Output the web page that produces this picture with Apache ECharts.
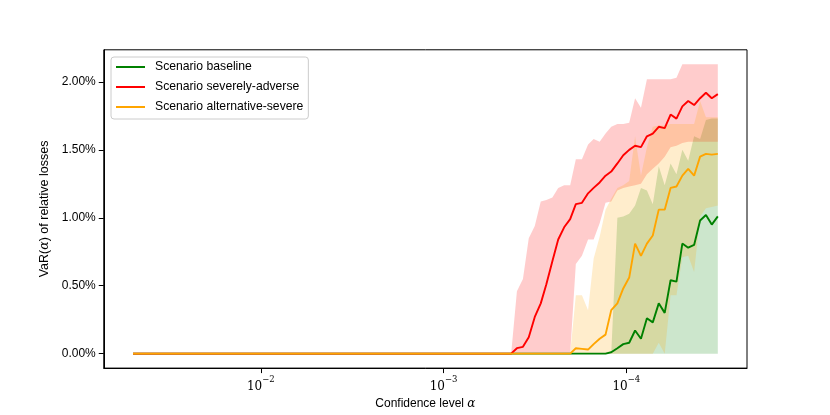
<!DOCTYPE html>
<html lang="en">
<head>
<meta charset="UTF-8" />
<title>VaR by confidence level</title>
<script src="https://cdn.jsdelivr.net/npm/echarts@6.0.0/dist/echarts.min.js"></script>
<style>
  * { margin: 0; padding: 0; }
  html, body { height: 100%; background: #fff; }
</style>
</head>
<body>
<div id="main" style="width:830px;height:415px;"></div>
<script type="text/javascript">
// confidence levels, leftmost point first (axis is reversed)
var alphas = [0.05,
  4.96e-4, 4.60e-4, 4.27e-4, 3.97e-4, 3.68e-4, 3.42e-4, 3.17e-4, 2.94e-4, 2.74e-4, 2.54e-4,
  2.36e-4, 2.19e-4, 2.03e-4, 1.89e-4, 1.75e-4, 1.62e-4, 1.51e-4, 1.40e-4, 1.30e-4, 1.21e-4,
  1.12e-4, 1.04e-4, 9.65e-5, 8.96e-5, 8.32e-5, 7.72e-5, 7.17e-5, 6.65e-5, 6.17e-5, 5.73e-5,
  5.32e-5, 4.94e-5, 4.59e-5, 4.26e-5, 3.95e-5, 3.67e-5, 3.41e-5, 3.16e-5];

// VaR in percent
var varBaseline = [0,
  0, 0, 0, 0, 0, 0, 0, 0, 0, 0,
  0, 0, 0, 0, 0, 0, 0, 0, 0, 0.01,
  0.04, 0.07, 0.08, 0.17, 0.11, 0.26, 0.23, 0.37, 0.30, 0.54,
  0.53, 0.81, 0.78, 0.80, 0.98, 1.02, 0.95, 1.01];
var varSevere = [0,
  0, 0, 0, 0.04, 0.05, 0.12, 0.27, 0.37, 0.51, 0.68,
  0.84, 0.93, 0.99, 1.10, 1.11, 1.18, 1.22, 1.26, 1.31, 1.34,
  1.40, 1.46, 1.50, 1.53, 1.52, 1.60, 1.62, 1.67, 1.66, 1.76,
  1.73, 1.82, 1.86, 1.83, 1.88, 1.92, 1.88, 1.91];
var varAlternative = [0,
  0, 0, 0, 0, 0, 0, 0, 0, 0, 0,
  0, 0, 0, 0.04, 0.035, 0.03, 0.07, 0.11, 0.14, 0.32,
  0.37, 0.48, 0.56, 0.81, 0.72, 0.81, 0.87, 1.06, 1.06, 1.22,
  1.23, 1.31, 1.36, 1.31, 1.45, 1.47, 1.465, 1.47];

// shaded ranges (lower / upper), percent
var baseLower = [0,
  0, 0, 0, 0, 0, 0, 0, 0, 0, 0,
  0, 0, 0, 0, 0, 0, 0, 0, 0, 0,
  0, 0, 0, 0, 0, 0, 0, 0, 0, 0,
  0, 0, 0, 0, 0, 0, 0, 0];
var baseUpper = [0,
  0, 0, 0, 0, 0, 0, 0, 0, 0, 0,
  0, 0, 0, 0, 0, 0, 0, 0, 0, 0,
  1.00, 1.01, 1.03, 1.09, 1.22, 1.20, 1.10, 1.38, 1.24, 1.40,
  1.32, 1.50, 1.42, 1.60, 1.58, 1.72, 1.73, 1.73];
var severeLower = [0,
  0, 0, 0, 0, 0, 0, 0, 0, 0, 0,
  0, 0, 0, 0.66, 0.72, 0.84, 0.84, 0.96, 1.11, 1.12,
  1.20, 1.22, 1.23, 1.24, 1.25, 1.32, 1.36, 1.40, 1.45, 1.52,
  1.53, 1.55, 1.56, 1.56, 1.56, 1.56, 1.56, 1.56];
var severeUpper = [0,
  0, 0, 0, 0.46, 0.55, 0.85, 0.94, 1.12, 1.13, 1.15,
  1.22, 1.24, 1.24, 1.43, 1.43, 1.54, 1.58, 1.56, 1.62, 1.67,
  1.69, 1.69, 1.70, 1.88, 1.81, 2.02, 2.02, 2.02, 2.02, 2.02,
  2.03, 2.13, 2.13, 2.13, 2.13, 2.13, 2.13, 2.13];
var altLower = [0,
  0, 0, 0, 0, 0, 0, 0, 0, 0, 0,
  0, 0, 0, 0, 0, 0, 0, 0, 0, 0,
  0, 0, 0, 0, 0, 0, 0, 0.08, 0, 0.43,
  0.43, 0.71, 0.72, 0.60, 1.01, 1.07, 1.08, 1.09];
var altUpper = [0,
  0, 0, 0, 0, 0, 0, 0, 0, 0, 0,
  0, 0, 0, 0.43, 0.43, 0.32, 0.70, 0.86, 1.06, 1.14,
  1.22, 1.24, 1.27, 1.60, 1.31, 1.52, 1.67, 1.68, 1.68, 1.69,
  1.69, 1.69, 1.69, 1.69, 1.86, 1.74, 1.74, 1.74];

var yTicks = [0, 0.5, 1, 1.5, 2];
var legendNames = ["Scenario baseline", "Scenario severely-adverse", "Scenario alternative-severe"];

var sans = "Liberation Sans";

function pairs(vals) {
  return alphas.map(function (a, i) { return [a, vals[i]]; });
}

// fill_between as one polygon, drawn through the axis scales
function band(name, lower, upper, fill) {
  return {
    type: "custom",
    name: name,
    silent: true,
    z: 1,
    data: pairs(upper),
    renderItem: function (params, api) {
      if (params.dataIndex !== 0) return null;
      var pts = [];
      for (var i = 0; i < alphas.length; i++) pts.push(api.coord([alphas[i], upper[i]]));
      for (var k = alphas.length - 1; k >= 0; k--) pts.push(api.coord([alphas[k], lower[k]]));
      return { type: "polygon", shape: { points: pts }, style: { fill: fill, stroke: null } };
    }
  };
}

function line(name, vals, color) {
  return {
    type: "line",
    name: name,
    data: pairs(vals),
    symbol: "none",
    z: 2,
    lineStyle: { color: color, width: 1.9 },
    itemStyle: { color: color }
  };
}

var myChart = echarts.init(document.getElementById("main"));
var option = {
  animation: false,
  backgroundColor: "#fff",
  textStyle: { fontFamily: sans },
  grid: {
    left: 103.75, right: 83, top: 49.8, bottom: 45.65,
    show: true, borderColor: "#000", borderWidth: 1, backgroundColor: "transparent"
  },
  legend: {
    data: legendNames,
    orient: "vertical",
    left: 111, top: 57,
    padding: [3, 5, 5, 5],
    itemGap: 6,
    icon: "rect",
    itemWidth: 29, itemHeight: 2,
    backgroundColor: "rgba(255,255,255,0.8)",
    borderColor: "#cccccc", borderWidth: 1, borderRadius: 3,
    textStyle: { fontFamily: sans, fontSize: 12.2, lineHeight: 14, color: "#000", padding: [0, 0, 0, 5] }
  },
  xAxis: {
    type: "log",
    logBase: 10,
    inverse: true,
    min: 2.188e-5,
    max: 0.0723,
    name: "{n|Confidence level }{i|α}",
    nameLocation: "middle",
    nameGap: 24,
    nameTextStyle: {
      rich: {
        n: { fontFamily: sans, fontSize: 12, color: "#000" },
        i: { fontFamily: "DejaVu Serif", fontStyle: "italic", fontSize: 12, color: "#000" }
      }
    },
    axisLine: { show: true, onZero: false, lineStyle: { color: "#000", width: 1 } },
    axisTick: { show: true, inside: false, length: 5, lineStyle: { color: "#000", width: 1 } },
    minorTick: { show: false },
    splitLine: { show: false },
    axisLabel: {
      margin: 7,
      showMinLabel: false,
      showMaxLabel: false,
      formatter: function (v) {
        var e = Math.round(Math.log10(v));
        return "{b|10}{s|\u2212" + Math.abs(e) + "}";
      },
      rich: {
        b: { fontFamily: "DejaVu Serif", fontSize: 12, color: "#000", lineHeight: 18, verticalAlign: "bottom" },
        s: { fontFamily: "DejaVu Serif", fontSize: 8.5, color: "#000", lineHeight: 10, verticalAlign: "top" }
      }
    }
  },
  yAxis: {
    type: "value",
    min: -0.1065,
    max: 2.2365,
    name: "{n|VaR(}{i|α}{n|) of relative losses}",
    nameLocation: "middle",
    nameGap: 51,
    nameRotate: 90,
    nameTextStyle: {
      rich: {
        n: { fontFamily: sans, fontSize: 12.5, color: "#000" },
        i: { fontFamily: "DejaVu Serif", fontStyle: "italic", fontSize: 12.5, color: "#000" }
      }
    },
    axisLine: { show: true, onZero: false, lineStyle: { color: "#000", width: 1 } },
    axisTick: { show: true, inside: false, length: 5, customValues: yTicks, lineStyle: { color: "#000", width: 1 } },
    splitLine: { show: false },
    axisLabel: {
      customValues: yTicks,
      margin: 8,
      color: "#000",
      fontFamily: sans,
      fontSize: 12,
      formatter: function (v) { return v.toFixed(2) + "%"; }
    }
  },
  series: [
    band("baseline range", baseLower, baseUpper, "rgba(0,128,0,0.2)"),
    band("severely-adverse range", severeLower, severeUpper, "rgba(255,0,0,0.2)"),
    band("alternative-severe range", altLower, altUpper, "rgba(255,165,0,0.2)"),
    line(legendNames[0], varBaseline, "#008000"),
    line(legendNames[1], varSevere, "#ff0000"),
    line(legendNames[2], varAlternative, "#ffa500")
  ]
};
myChart.setOption(option);
</script>
</body>
</html>
